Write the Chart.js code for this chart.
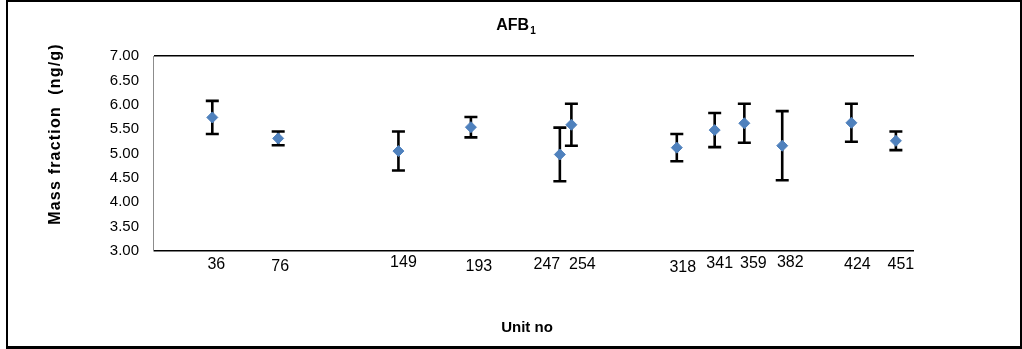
<!DOCTYPE html>
<html>
<head>
<meta charset="utf-8">
<script src="https://cdn.jsdelivr.net/npm/chart.js@4.4.1/dist/chart.umd.min.js"></script>
<style>
  html, body { margin: 0; padding: 0; background: #ffffff; }
  #wrap { width: 1022px; height: 349px; position: relative; }
  canvas { display: block; }
</style>
</head>
<body>
<div id="wrap"><canvas id="c" width="1022" height="349"></canvas></div>
<script>
// ---- data ----
const unitNumbers = [36, 76, 149, 193, 247, 254, 318, 341, 359, 382, 424, 451];
const massFraction = [5.74, 5.31, 5.05, 5.54, 4.98, 5.59, 5.12, 5.48, 5.62, 5.16, 5.63, 5.26];
const uncertainty = [0.34, 0.14, 0.40, 0.21, 0.55, 0.43, 0.28, 0.35, 0.40, 0.71, 0.39, 0.19];
const yTickValues = [3.0, 3.5, 4.0, 4.5, 5.0, 5.5, 6.0, 6.5, 7.0];
const chartTitle = 'AFB';
const chartTitleSub = '1';
const yAxisTitle = 'Mass fraction  (ng/g)';
const xAxisTitle = 'Unit no';

const points = unitNumbers.map((u, i) => ({ x: u, y: massFraction[i] }));

// ---- style-only settings ----
const labelStyle = {
  // horizontal / vertical nudges of the unit labels (pixels), as in the original hand-placed labels
  dx: [4, 2, 5, 8, -13, 11, 6, 5, 9, 8, 6, 5],
  dy: [0, 2, -2, 2, 0, 0, 3, -1, -1, -2, 0, 0]
};

const errorBarPlugin = {
  id: 'errorBars',
  beforeDatasetsDraw(chart) {
    const ctx = chart.ctx;
    const xs = chart.scales.x, ys = chart.scales.y;
    ctx.save();
    ctx.strokeStyle = '#000000';
    ctx.lineWidth = 2.6;
    ctx.lineCap = 'butt';
    points.forEach((p, i) => {
      const px = xs.getPixelForValue(p.x);
      const top = ys.getPixelForValue(p.y + uncertainty[i]);
      const bot = ys.getPixelForValue(p.y - uncertainty[i]);
      ctx.beginPath();
      ctx.moveTo(px, top); ctx.lineTo(px, bot);
      ctx.moveTo(px - 6.5, top); ctx.lineTo(px + 6.5, top);
      ctx.moveTo(px - 6.5, bot); ctx.lineTo(px + 6.5, bot);
      ctx.stroke();
    });
    ctx.restore();
  }
};

const decorPlugin = {
  id: 'decor',
  afterDraw(chart) {
    const ctx = chart.ctx;
    const xs = chart.scales.x;
    const area = chart.chartArea;
    ctx.save();
    // frame
    ctx.fillStyle = '#000000';
    ctx.fillRect(6, 0, 1016, 2);
    ctx.fillRect(6, 0, 2, 349);
    ctx.fillRect(6, 346, 1016, 3);
    ctx.fillRect(1020, 0, 2, 349);

    // title
    ctx.fillStyle = '#000000';
    ctx.textBaseline = 'alphabetic';
    ctx.textAlign = 'left';
    ctx.font = 'bold 16px "Liberation Sans", Arial, sans-serif';
    const tw = ctx.measureText(chartTitle).width;
    ctx.font = 'bold 10px "Liberation Sans", Arial, sans-serif';
    const sw = ctx.measureText(chartTitleSub).width;
    const tx = 516 - (tw + sw + 1) / 2;
    ctx.font = 'bold 16px "Liberation Sans", Arial, sans-serif';
    ctx.fillText(chartTitle, tx, 30);
    ctx.font = 'bold 10px "Liberation Sans", Arial, sans-serif';
    ctx.fillText(chartTitleSub, tx + tw + 1, 34);

    // unit labels
    ctx.font = '16px "Liberation Sans", Arial, sans-serif';
    ctx.textAlign = 'center';
    ctx.textBaseline = 'middle';
    ctx.fillStyle = '#000000';
    unitNumbers.forEach((u, i) => {
      const px = xs.getPixelForValue(u) + labelStyle.dx[i];
      ctx.fillText(String(u), px, area.bottom + 14 + labelStyle.dy[i]);
    });

    // x axis title
    ctx.font = 'bold 15px "Liberation Sans", Arial, sans-serif';
    ctx.fillText(xAxisTitle, 527, 328);

    // y axis title
    ctx.translate(56, 134);
    ctx.rotate(-Math.PI / 2);
    ctx.font = 'bold 16px "Liberation Sans", Arial, sans-serif';
    try { ctx.letterSpacing = '1.2px'; } catch (e) {}
    ctx.fillText(yAxisTitle, 0, 0);
    ctx.restore();
  }
};

new Chart(document.getElementById('c'), {
  type: 'scatter',
  data: {
    datasets: [{
      label: 'AFB1',
      data: points,
      pointStyle: 'rectRot',
      pointRadius: 5.5,
      pointHoverRadius: 5.5,
      backgroundColor: '#4F81BD',
      borderColor: '#4F81BD',
      borderWidth: 1,
      showLine: false
    }]
  },
  options: {
    responsive: false,
    animation: false,
    events: [],
    layout: { padding: { left: 0, top: 56, right: 108, bottom: 98 } },
    plugins: { legend: { display: false }, title: { display: false }, tooltip: { enabled: false } },
    scales: {
      x: {
        type: 'linear', min: 0, max: 462, display: false
      },
      y: {
        type: 'linear', min: 3, max: 7,
        afterFit(scale) { scale.width = 153; },
        afterBuildTicks(scale) { scale.ticks = yTickValues.map(v => ({ value: v })); },
        border: { display: true, color: '#8c8c8c', width: 1 },
        grid: {
          drawTicks: false,
          color: (c) => (c.tick && (c.tick.value === 7 || c.tick.value === 3)) ? '#000000' : 'rgba(0,0,0,0)',
          lineWidth: 1.5
        },
        ticks: {
          padding: 14,
          color: '#000000',
          font: { family: '"Liberation Sans", Arial, sans-serif', size: 15 },
          callback: (v) => Number(v).toFixed(2)
        }
      }
    }
  },
  plugins: [errorBarPlugin, decorPlugin]
});
</script>
</body>
</html>
